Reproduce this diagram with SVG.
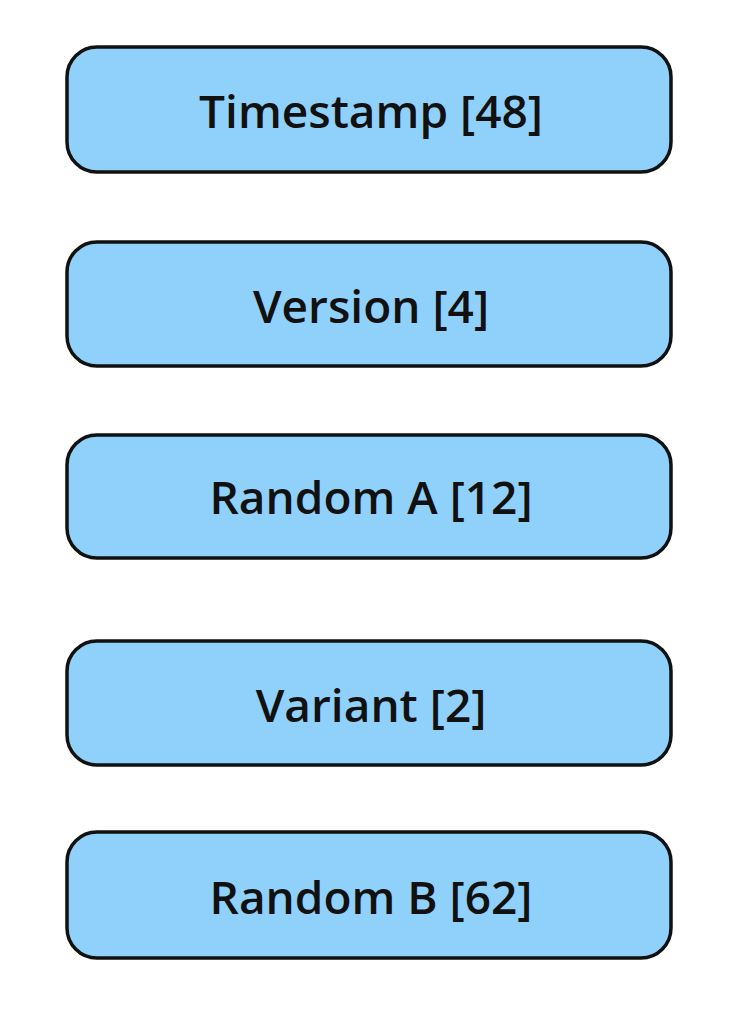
<svg xmlns="http://www.w3.org/2000/svg" width="736" height="1012" viewBox="0 0 736 1012">
<style>
.b{fill:#90d1fb;stroke:#111;stroke-width:3.5}
.t{font-family:"Open Sans","DejaVu Sans",sans-serif;font-size:46px;font-weight:600;fill:#111;text-anchor:middle;dominant-baseline:central}
</style>
<rect width="736" height="1012" fill="#fff"/>
<g id="timestamp"><rect class="b" x="67" y="47" width="604" height="125" rx="30"/><text class="t" x="371" y="110">Timestamp [48]</text></g>
<g id="version"><rect class="b" x="67" y="242" width="604" height="124" rx="30"/><text class="t" x="371" y="305">Version [4]</text></g>
<g id="randomA"><rect class="b" x="67" y="435" width="604" height="123" rx="30"/><text class="t" x="371" y="496">Random A [12]</text></g>
<g id="variant"><rect class="b" x="67" y="641" width="604" height="124" rx="30"/><text class="t" x="371" y="704">Variant [2]</text></g>
<g id="randomB"><rect class="b" x="67" y="832" width="604" height="126" rx="30"/><text class="t" x="371" y="896">Random B [62]</text></g>
<g id="connectors"/>
</svg>
